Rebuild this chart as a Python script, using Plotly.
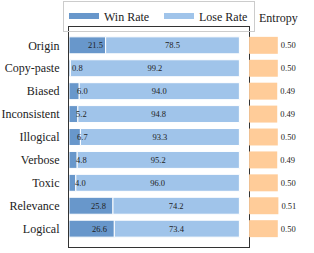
import plotly.graph_objects as go

categories = ["Origin", "Copy-paste", "Biased", "Inconsistent", "Illogical",
              "Verbose", "Toxic", "Relevance", "Logical"]
win_rate = [21.5, 0.8, 6.0, 5.2, 6.7, 4.8, 4.0, 25.8, 26.6]
lose_rate = [78.5, 99.2, 94.0, 94.8, 93.3, 95.2, 96.0, 74.2, 73.4]
entropy = [0.50, 0.50, 0.49, 0.49, 0.50, 0.49, 0.50, 0.51, 0.50]

WIN_C = "#6897CB"
LOSE_C = "#A0C4EA"
ENT_C = "#FFCC99"
TXT = "#222222"
FONT = "Liberation Serif, Times New Roman, serif"

fig = go.Figure()
fig.add_trace(go.Bar(
    y=categories, x=win_rate, orientation="h", name="Win Rate",
    marker=dict(color=WIN_C, line=dict(color="white", width=1)),
    width=0.74, showlegend=False, xaxis="x", yaxis="y",
))
fig.add_trace(go.Bar(
    y=categories, x=lose_rate, base=win_rate, orientation="h", name="Lose Rate",
    marker=dict(color=LOSE_C, line=dict(color="white", width=1)),
    width=0.74, showlegend=False, xaxis="x", yaxis="y",
    text=[f"{v:.1f}" for v in lose_rate], textposition="inside",
    insidetextanchor="middle", textangle=0,
    textfont=dict(family=FONT, size=8.5, color=TXT),
))
fig.add_trace(go.Bar(
    y=categories, x=entropy, orientation="h", name="Entropy",
    marker=dict(color=ENT_C, line=dict(width=0)),
    width=0.74, showlegend=False, xaxis="x2", yaxis="y2",
    text=[f"{v:.2f}" for v in entropy], textposition="outside",
    textfont=dict(family=FONT, size=8.5, color=TXT), cliponaxis=False,
))
# legend-only entries
fig.add_trace(go.Scatter(x=[None], y=[None], mode="lines", name="Win Rate",
                         line=dict(color=WIN_C, width=6), xaxis="x", yaxis="y"))
fig.add_trace(go.Scatter(x=[None], y=[None], mode="lines", name="Lose Rate",
                         line=dict(color=LOSE_C, width=6), xaxis="x", yaxis="y"))

for c, w in zip(categories, win_rate):
    fig.add_annotation(x=w / 2, y=c, xref="x", yref="y", text=f"{w:.1f}",
                       showarrow=False, xshift=8,
                       font=dict(family=FONT, size=8.5, color=TXT))

fig.add_annotation(x=0.857, y=1.041, xref="paper", yref="paper", text="Entropy",
                   xanchor="center", yanchor="middle",
                   showarrow=False, font=dict(family=FONT, size=12, color=TXT))

split = 0.733
fig.update_layout(
    width=314, height=253,
    margin=dict(l=69, r=0, t=27, b=6, autoexpand=False),
    barmode="overlay",
    plot_bgcolor="white", paper_bgcolor="white",
    font=dict(family=FONT, size=12, color=TXT),
    xaxis=dict(domain=[0, split], range=[0, 105.4], showticklabels=False,
               showgrid=False, zeroline=False, showline=True, mirror=True,
               linecolor="#333333", linewidth=1.2, ticks=""),
    yaxis=dict(type="category", categoryorder="array", categoryarray=categories,
               range=[8.8, -0.8], showgrid=False, zeroline=False, showline=True,
               mirror=True, linecolor="#333333", linewidth=1.2, ticks="",
               ticklabelstandoff=6, tickfont=dict(family=FONT, size=12, color=TXT)),
    xaxis2=dict(domain=[split + 0.002, 1], range=[0, 1.13], showticklabels=False,
                showgrid=False, zeroline=False, showline=False, anchor="y2"),
    yaxis2=dict(type="category", categoryorder="array", categoryarray=categories,
                range=[8.8, -0.8], showticklabels=False, showgrid=False,
                zeroline=False, showline=False, anchor="x2"),
    legend=dict(orientation="h", x=-0.0245, y=1.12, xanchor="left", yanchor="top",
                bgcolor="rgba(255,255,255,0)", bordercolor="#cccccc", borderwidth=1,
                itemwidth=30, entrywidth=50, entrywidthmode="pixels",
                font=dict(family=FONT, size=12, color=TXT)),
)

fig.write_html("out.html", config={"displayModeBar": False},
               post_script="document.body.style.margin='0';document.body.style.overflow='hidden';")
